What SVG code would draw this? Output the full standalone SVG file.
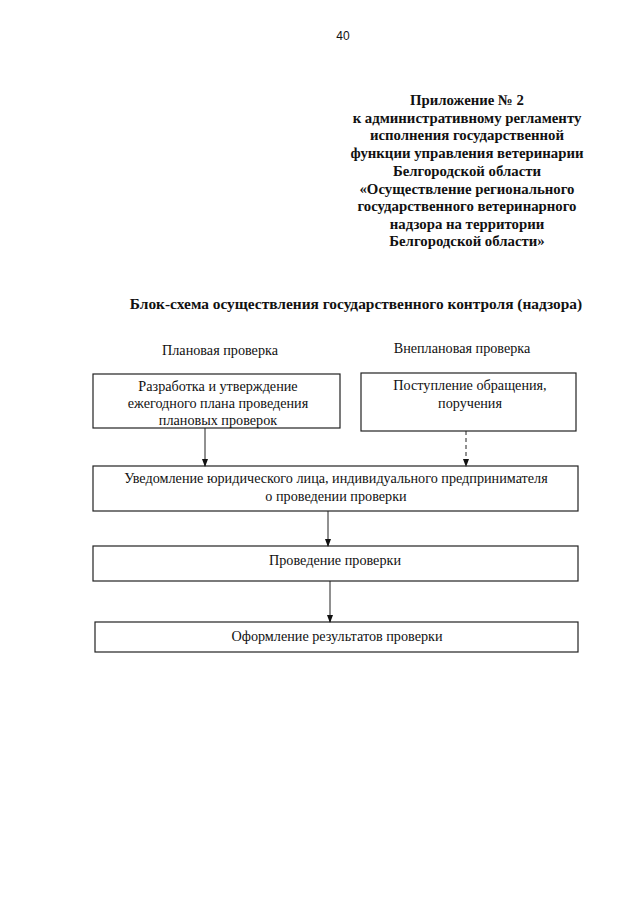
<svg xmlns="http://www.w3.org/2000/svg" width="640" height="905" viewBox="0 0 640 905">
<style>
text{font-family:"Liberation Serif","Times New Roman",serif;fill:#111;}
.h{font-size:14.8px;font-weight:bold;text-anchor:middle;}
.ti{font-size:15.4px;font-weight:bold;text-anchor:middle;}
.t{font-size:14.2px;text-anchor:middle;}
.box{fill:none;stroke:#222;stroke-width:1.2;}
.c{stroke:#222;stroke-width:1;fill:none;}
</style>
<defs>
<marker id="ar" viewBox="0 0 8 8" refX="7" refY="4" markerWidth="8" markerHeight="8" markerUnits="userSpaceOnUse" orient="auto">
<path d="M0,1 L8,4 L0,7 Z" fill="#111"/>
</marker>
</defs>
<rect width="640" height="905" fill="#fff"/>
<text x="343" y="40" style="font-size:12px;font-family:'Liberation Sans',Arial,sans-serif;text-anchor:middle">40</text>
<g id="header">
<text class="h" x="467" y="105">Приложение № 2</text>
<text class="h" x="467" y="123">к административному регламенту</text>
<text class="h" x="467" y="140">исполнения государственной</text>
<text class="h" x="467" y="158">функции управления ветеринарии</text>
<text class="h" x="467" y="176">Белгородской области</text>
<text class="h" x="467" y="194">«Осуществление регионального</text>
<text class="h" x="467" y="211">государственного ветеринарного</text>
<text class="h" x="467" y="229">надзора на территории</text>
<text class="h" x="467" y="246">Белгородской области»</text>
</g>
<text class="ti" x="356" y="309">Блок-схема осуществления государственного контроля (надзора)</text>
<text class="t" x="220" y="355">Плановая проверка</text>
<text class="t" x="462" y="353">Внеплановая проверка</text>
<g id="n1">
<rect class="box" x="93" y="374" width="247" height="54"/>
<text class="t" x="218" y="391">Разработка и утверждение</text>
<text class="t" x="218" y="408">ежегодного плана проведения</text>
<text class="t" x="218" y="425">плановых проверок</text>
</g>
<g id="n2">
<rect class="box" x="361" y="373" width="215" height="58"/>
<text class="t" x="470" y="390">Поступление обращения,</text>
<text class="t" x="470" y="408">поручения</text>
</g>
<g id="n3">
<rect class="box" x="93" y="466" width="485" height="45"/>
<text class="t" x="336" y="483">Уведомление юридического лица, индивидуального предпринимателя</text>
<text class="t" x="336" y="501">о проведении проверки</text>
</g>
<g id="n4">
<rect class="box" x="93" y="546" width="485" height="35"/>
<text class="t" x="335" y="565">Проведение проверки</text>
</g>
<g id="n5">
<rect class="box" x="95" y="622" width="483" height="30"/>
<text class="t" x="337" y="641">Оформление результатов проверки</text>
</g>
<g id="connectors">
<line class="c" x1="205" y1="428" x2="205" y2="466" marker-end="url(#ar)"/>
<line class="c" x1="466" y1="431" x2="466" y2="466" stroke-dasharray="4,3" marker-end="url(#ar)"/>
<line class="c" x1="328" y1="511" x2="328" y2="546" marker-end="url(#ar)"/>
<line class="c" x1="330" y1="581" x2="330" y2="622" marker-end="url(#ar)"/>
</g>
</svg>
